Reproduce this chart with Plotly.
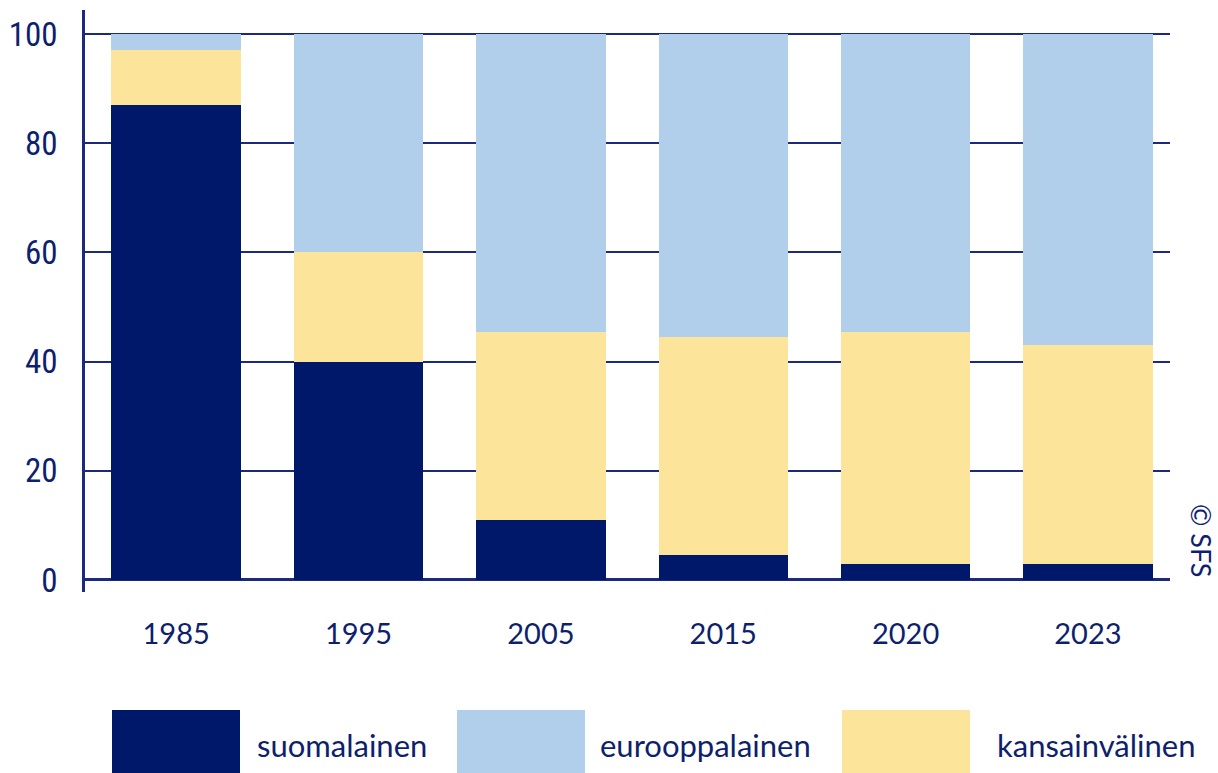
import plotly.graph_objects as go

years = ["1985", "1995", "2005", "2015", "2020", "2023"]
suomalainen = [87, 40, 11, 4.5, 3, 3]
kansainvalinen = [10, 20, 34.5, 40, 42.5, 40]
eurooppalainen = [3, 40, 54.5, 55.5, 54.5, 57]

series_names = ["suomalainen", "eurooppalainen", "kansainvälinen"]
colors = {"suomalainen": "#00186a", "eurooppalainen": "#b1cfea", "kansainvälinen": "#fce59b"}
navy = "#1b2a7e"
text_col = "#0e1f6e"
font_fam = "Liberation Sans Narrow, Roboto Condensed, Open Sans, sans-serif"

fig = go.Figure()
for name, vals in [("suomalainen", suomalainen), ("kansainvälinen", kansainvalinen),
                   ("eurooppalainen", eurooppalainen)]:
    fig.add_trace(go.Bar(x=years, y=vals, name=name, marker_color=colors[name],
                         marker_line_width=0, showlegend=False))

fig.update_layout(
    barmode="stack", bargap=0.29,
    width=1218, height=773,
    margin=dict(l=85, r=48, t=10, b=181, autoexpand=False),
    plot_bgcolor="white", paper_bgcolor="white",
    font=dict(family=font_fam, color=text_col),
)
fig.update_xaxes(type="category", range=[-0.5, 5.45], showline=False, showgrid=False,
                 automargin=False,
                 ticks="", tickfont=dict(size=29, family="Lato, Open Sans, sans-serif", color=text_col),
                 ticklabelstandoff=22)
fig.update_yaxes(range=[-2.2, 104.4], tickvals=[0, 20, 40, 60, 80, 100],
                 automargin=False,
                 showline=True, linecolor=navy, linewidth=2.5,
                 showgrid=True, gridcolor=navy, gridwidth=2,
                 zeroline=True, zerolinecolor=navy, zerolinewidth=2.5,
                 ticks="outside", ticklen=4, tickcolor="rgba(0,0,0,0)",
                 tickfont=dict(size=33, color=text_col), ticklabelstandoff=14)

# legend drawn manually with large swatches
def px_x(X):
    return (X - 85) / 1085
def px_y(Y):
    return (592 - Y) / 582

swatches = [(112, 240, 255), (457, 585, 598), (842, 970, 995)]
for name, (x0, x1, tx) in zip(series_names, swatches):
    fig.add_shape(type="rect", xref="paper", yref="paper",
                  x0=px_x(x0), x1=px_x(x1), y0=px_y(710), y1=px_y(790),
                  fillcolor=colors[name], line_width=0)
    fig.add_annotation(text=name, xref="paper", yref="paper", x=px_x(tx), y=px_y(745),
                       xanchor="left", yanchor="middle", showarrow=False,
                       font=dict(size=31, family="Lato, Open Sans, sans-serif", color=text_col))

fig.add_annotation(text="© SFS", xref="paper", yref="paper", x=px_x(1202), y=px_y(540),
                   textangle=90, showarrow=False, xanchor="center", yanchor="middle",
                   font=dict(size=27, family="Lato, Open Sans, sans-serif", color=text_col))

fig.write_html("out.html", config={"displayModeBar": False},
               post_script="document.body.style.margin='0';document.body.style.overflow='hidden';")
